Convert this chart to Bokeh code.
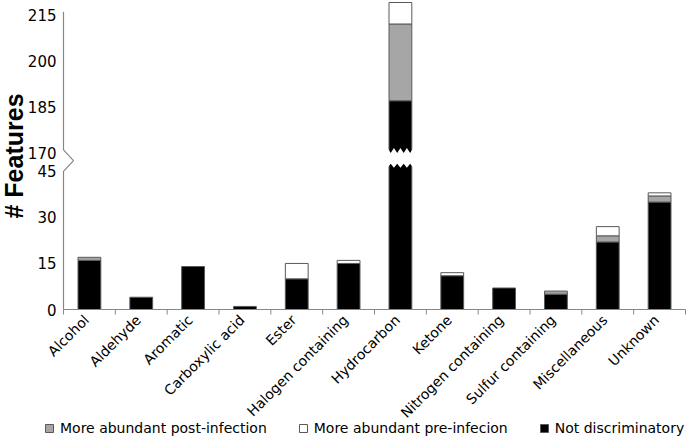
import math
from bokeh.plotting import figure
from bokeh.models import ColumnDataSource, Legend, LegendItem
from bokeh.core.properties import value
from bokeh.embed import file_html
from bokeh.resources import INLINE

# ---------------- data ----------------
categories = ["Alcohol", "Aldehyde", "Aromatic", "Carboxylic acid", "Ester",
              "Halogen containing", "Hydrocarbon", "Ketone", "Nitrogen containing",
              "Sulfur containing", "Miscellaneous", "Unknown"]
not_discriminatory = [16, 4, 14, 1, 10, 15, 187, 11, 7, 5, 22, 35]
post_infection = [1, 0, 0, 0, 0, 0, 25, 0, 0, 1, 2, 2]
pre_infection = [0, 0, 0, 0, 5, 1, 7, 1, 0, 0, 3, 1]

lower_ticks = [0, 15, 30, 45]
upper_ticks = [170, 185, 200, 215]
series_names = ["More abundant post-infection", "More abundant pre-infecion",
                "Not discriminatory"]

# ---------------- broken axis mapping ----------------
BREAK_LOW = 45      # top of lower segment
BREAK_HIGH = 170    # bottom of upper segment
GAP = 6             # display units between the segments
SHIFT = BREAK_HIGH - BREAK_LOW - GAP


def d(v):
    return v if v <= BREAK_LOW else v - SHIFT


GRAY = "#a6a6a6"
EDGE = "#595959"
AXIS = "#868686"
FONT = "DejaVu Sans"

# ---------------- canvas geometry (frame covers the whole figure) ----------------
W, H = 689, 441
AX_LEFT_PX, AX_RIGHT_PX = 63, 685      # x-axis extent in pixels
ZERO_PX, PX_Y = 309, 3.07              # y=0 position, px per unit
n_cat = len(categories)
PX_X = (AX_RIGHT_PX - AX_LEFT_PX) / n_cat
x_start = 0.5 - AX_LEFT_PX / PX_X
x_end = x_start + W / PX_X
y_end = ZERO_PX / PX_Y
y_start = -(H - ZERO_PX) / PX_Y

xs = [i + 1 for i in range(n_cat)]
bounds = [x - 0.5 for x in xs] + [xs[-1] + 0.5]
BAR_W = 0.44

p = figure(width=W, height=H, output_backend="svg", toolbar_location=None,
           x_range=(x_start, x_end), y_range=(y_start, y_end),
           min_border=0)
p.axis.visible = False
p.outline_line_color = None
p.grid.visible = False
p.background_fill_color = "white"

# ---------------- stacked bars ----------------
stack_order = [not_discriminatory, post_infection, pre_infection]
stack_colors = ["black", GRAY, "white"]
renderers = []
cum = [0] * n_cat
for vals, col in zip(stack_order, stack_colors):
    bx, bb, bt = [], [], []
    for i, v in enumerate(vals):
        if v > 0:
            bx.append(xs[i])
            bb.append(d(cum[i]))
            bt.append(d(cum[i] + v))
        cum[i] += v
    src = ColumnDataSource(dict(x=bx, bottom=bb, top=bt))
    r = p.vbar(x="x", bottom="bottom", top="top", width=BAR_W, source=src,
               fill_color=col, line_color=EDGE, line_width=1)
    renderers.append(r)

# white zig-zag cut through bars that cross the break
for i, total in enumerate(not_discriminatory):
    if total > BREAK_HIGH:
        x0 = xs[i] - BAR_W / 2 - 0.03
        x1 = xs[i] + BAR_W / 2 + 0.03
        n = 8
        bot_lo, bot_hi = BREAK_LOW + 1.2, BREAK_LOW + 2.5
        top_lo, top_hi = d(BREAK_HIGH), d(BREAK_HIGH) + 1.6
        px, py = [], []
        for k in range(n + 1):
            px.append(x0 + (x1 - x0) * k / n)
            py.append(bot_hi if k % 2 else bot_lo)
        for k in range(n, -1, -1):
            px.append(x0 + (x1 - x0) * k / n)
            py.append(top_lo if k % 2 else top_hi)
        p.patch(px, py, fill_color="white", line_color=None)

# ---------------- axes (drawn, because of the broken scale) ----------------
ax0 = bounds[0]
chev = 10 / PX_X
p.line([ax0, ax0, ax0 + chev, ax0, ax0],
       [0, BREAK_LOW, BREAK_LOW + 3.5, BREAK_LOW + 7, d(216)],
       line_color=AXIS, line_width=1.2)
p.line([bounds[0], bounds[-1]], [0, 0], line_color=AXIS, line_width=1.2)
tick_len = 5 / PX_Y
p.segment(x0=bounds, y0=[0] * len(bounds), x1=bounds,
          y1=[-tick_len] * len(bounds), line_color=AXIS, line_width=1)

# y tick labels
yvals = lower_ticks + upper_ticks
p.text(x=[ax0] * len(yvals), y=[d(v) for v in yvals], text=[str(v) for v in yvals],
       x_offset=-7, text_align="right", text_baseline="middle",
       text_font=value(FONT), text_font_size="15px", text_color="black")

# y axis title
p.text(x=[ax0], y=[d(216) / 2 + 1.5], text=["# Features"], angle=math.pi / 2,
       x_offset=-64, text_align="center", text_baseline="top",
       text_font=value("Liberation Sans"), text_font_size="25px",
       text_font_style="bold", text_color="black")

# x category labels
p.text(x=xs, y=[0] * n_cat, text=categories, angle=math.pi / 4,
       x_offset=-3, y_offset=8, text_align="right", text_baseline="middle",
       text_font=value(FONT), text_font_size="14px", text_color="black")

# ---------------- legend ----------------
items = [LegendItem(label=series_names[0], renderers=[renderers[1]]),
         LegendItem(label=series_names[1], renderers=[renderers[2]]),
         LegendItem(label=series_names[2], renderers=[renderers[0]])]
legend = Legend(items=items, orientation="horizontal", location=(44, 5),
                glyph_width=10, glyph_height=10, label_standoff=6, spacing=31,
                padding=0, margin=0, border_line_alpha=0,
                label_text_font=FONT, label_text_font_size="14px",
                label_text_color="black", background_fill_alpha=0)
p.add_layout(legend)

open("out.html", "w").write(file_html(p, INLINE))
